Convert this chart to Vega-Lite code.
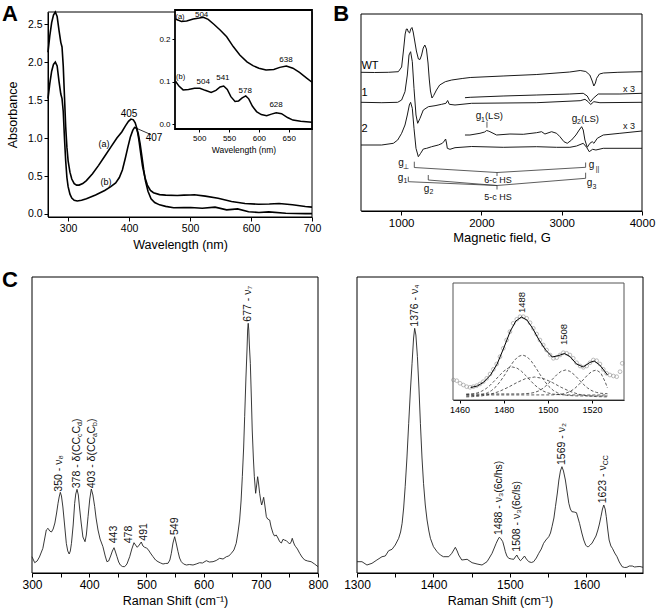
{
"$schema":"https://vega.github.io/schema/vega-lite/v6.json",
"width":656,"height":612,"autosize":{"type":"none"},"padding":0,"background":"white",
"config":{"view":{"stroke":null},"font":"Liberation Sans","axis":{"grid":false,"domainColor":"black","tickColor":"black","labelColor":"black","titleColor":"black","titleFontWeight":"normal","labelFlush":false,"labelOverlap":false,"tickSize":4,"labelPadding":2,"labelFont":"Liberation Sans","titleFont":"Liberation Sans"}},
"datasets":{
"absA":[
{"s":"a","x":267,"y":2.13},{"s":"a","x":270,"y":2.35},{"s":"a","x":273,"y":2.52},{"s":"a","x":276,"y":2.62},{"s":"a","x":279,"y":2.66},{"s":"a","x":282,"y":2.6},{"s":"a","x":285,"y":2.42},{"s":"a","x":288,"y":2.26},{"s":"a","x":290,"y":2.2},{"s":"a","x":292,"y":1.95},{"s":"a","x":294,"y":1.55},{"s":"a","x":296,"y":1.15},{"s":"a","x":298,"y":0.88},{"s":"a","x":300,"y":0.7},{"s":"a","x":303,"y":0.55},{"s":"a","x":306,"y":0.46},{"s":"a","x":310,"y":0.4},{"s":"a","x":314,"y":0.38},{"s":"a","x":318,"y":0.38},{"s":"a","x":324,"y":0.4},{"s":"a","x":330,"y":0.44},{"s":"a","x":340,"y":0.53},{"s":"a","x":350,"y":0.64},{"s":"a","x":360,"y":0.76},{"s":"a","x":370,"y":0.88},{"s":"a","x":380,"y":1.0},{"s":"a","x":388,"y":1.08},{"s":"a","x":394,"y":1.16},{"s":"a","x":399,"y":1.22},{"s":"a","x":403,"y":1.25},{"s":"a","x":407,"y":1.24},{"s":"a","x":410,"y":1.2},{"s":"a","x":413,"y":1.12},{"s":"a","x":416,"y":0.98},{"s":"a","x":419,"y":0.8},{"s":"a","x":422,"y":0.63},{"s":"a","x":426,"y":0.48},{"s":"a","x":430,"y":0.38},{"s":"a","x":435,"y":0.31},{"s":"a","x":440,"y":0.28},{"s":"a","x":450,"y":0.255},{"s":"a","x":460,"y":0.248},{"s":"a","x":479,"y":0.243},{"s":"a","x":490,"y":0.248},{"s":"a","x":500,"y":0.25},{"s":"a","x":507,"y":0.252},{"s":"a","x":525,"y":0.235},{"s":"a","x":546,"y":0.206},{"s":"a","x":568,"y":0.163},{"s":"a","x":590,"y":0.138},{"s":"a","x":612,"y":0.128},{"s":"a","x":630,"y":0.131},{"s":"a","x":646,"y":0.137},{"s":"a","x":668,"y":0.122},{"s":"a","x":689,"y":0.099},{"s":"a","x":700,"y":0.09},
{"s":"b","x":267,"y":1.52},{"s":"b","x":270,"y":1.72},{"s":"b","x":273,"y":1.88},{"s":"b","x":276,"y":1.97},{"s":"b","x":279,"y":2.0},{"s":"b","x":282,"y":1.95},{"s":"b","x":285,"y":1.75},{"s":"b","x":288,"y":1.58},{"s":"b","x":290,"y":1.52},{"s":"b","x":292,"y":1.35},{"s":"b","x":294,"y":1.0},{"s":"b","x":296,"y":0.7},{"s":"b","x":298,"y":0.48},{"s":"b","x":300,"y":0.36},{"s":"b","x":303,"y":0.26},{"s":"b","x":306,"y":0.21},{"s":"b","x":310,"y":0.18},{"s":"b","x":315,"y":0.17},{"s":"b","x":322,"y":0.18},{"s":"b","x":330,"y":0.2},{"s":"b","x":345,"y":0.25},{"s":"b","x":360,"y":0.31},{"s":"b","x":370,"y":0.36},{"s":"b","x":378,"y":0.41},{"s":"b","x":384,"y":0.48},{"s":"b","x":389,"y":0.58},{"s":"b","x":394,"y":0.74},{"s":"b","x":398,"y":0.88},{"s":"b","x":402,"y":1.01},{"s":"b","x":406,"y":1.1},{"s":"b","x":409,"y":1.14},{"s":"b","x":412,"y":1.13},{"s":"b","x":415,"y":1.06},{"s":"b","x":418,"y":0.93},{"s":"b","x":421,"y":0.76},{"s":"b","x":424,"y":0.58},{"s":"b","x":427,"y":0.43},{"s":"b","x":431,"y":0.3},{"s":"b","x":436,"y":0.2},{"s":"b","x":442,"y":0.15},{"s":"b","x":450,"y":0.12},{"s":"b","x":460,"y":0.1},{"s":"b","x":473,"y":0.081},{"s":"b","x":490,"y":0.084},{"s":"b","x":501,"y":0.085},{"s":"b","x":520,"y":0.075},{"s":"b","x":541,"y":0.09},{"s":"b","x":560,"y":0.054},{"s":"b","x":578,"y":0.067},{"s":"b","x":596,"y":0.03},{"s":"b","x":613,"y":0.02},{"s":"b","x":629,"y":0.027},{"s":"b","x":657,"y":0.01},{"s":"b","x":689,"y":0.005},{"s":"b","x":700,"y":0.004}
],
"insA":[
{"s":"a","x":460,"y":0.248},{"s":"a","x":470,"y":0.242},{"s":"a","x":479,"y":0.243},{"s":"a","x":490,"y":0.248},{"s":"a","x":500,"y":0.25},{"s":"a","x":507,"y":0.252},{"s":"a","x":515,"y":0.247},{"s":"a","x":525,"y":0.235},{"s":"a","x":535,"y":0.222},{"s":"a","x":546,"y":0.206},{"s":"a","x":557,"y":0.183},{"s":"a","x":568,"y":0.163},{"s":"a","x":580,"y":0.147},{"s":"a","x":590,"y":0.138},{"s":"a","x":600,"y":0.132},{"s":"a","x":612,"y":0.128},{"s":"a","x":625,"y":0.129},{"s":"a","x":635,"y":0.134},{"s":"a","x":646,"y":0.137},{"s":"a","x":657,"y":0.132},{"s":"a","x":668,"y":0.122},{"s":"a","x":679,"y":0.11},{"s":"a","x":689,"y":0.099},
{"s":"b","x":460,"y":0.102},{"s":"b","x":466,"y":0.09},{"s":"b","x":473,"y":0.081},{"s":"b","x":482,"y":0.082},{"s":"b","x":492,"y":0.085},{"s":"b","x":501,"y":0.085},{"s":"b","x":510,"y":0.08},{"s":"b","x":520,"y":0.075},{"s":"b","x":528,"y":0.08},{"s":"b","x":535,"y":0.088},{"s":"b","x":541,"y":0.09},{"s":"b","x":547,"y":0.082},{"s":"b","x":553,"y":0.065},{"s":"b","x":560,"y":0.054},{"s":"b","x":566,"y":0.055},{"s":"b","x":572,"y":0.062},{"s":"b","x":578,"y":0.067},{"s":"b","x":583,"y":0.06},{"s":"b","x":589,"y":0.043},{"s":"b","x":596,"y":0.03},{"s":"b","x":604,"y":0.023},{"s":"b","x":613,"y":0.02},{"s":"b","x":621,"y":0.024},{"s":"b","x":629,"y":0.027},{"s":"b","x":638,"y":0.025},{"s":"b","x":648,"y":0.016},{"s":"b","x":657,"y":0.01},{"s":"b","x":670,"y":0.007},{"s":"b","x":689,"y":0.005}
],
"epr":[
{"t":"WT","x":500,"y":138.7},{"t":"WT","x":670,"y":138.5},{"t":"WT","x":840,"y":138.7},{"t":"WT","x":965,"y":139.3},{"t":"WT","x":1006,"y":144},{"t":"WT","x":1031,"y":162},{"t":"WT","x":1050,"y":177},{"t":"WT","x":1065,"y":182},{"t":"WT","x":1077,"y":182},{"t":"WT","x":1090,"y":179},{"t":"WT","x":1105,"y":178},{"t":"WT","x":1120,"y":182},{"t":"WT","x":1135,"y":183.5},{"t":"WT","x":1150,"y":179},{"t":"WT","x":1165,"y":172},{"t":"WT","x":1190,"y":160},{"t":"WT","x":1215,"y":152},{"t":"WT","x":1235,"y":151.5},{"t":"WT","x":1255,"y":156},{"t":"WT","x":1275,"y":163},{"t":"WT","x":1295,"y":166},{"t":"WT","x":1315,"y":162},{"t":"WT","x":1335,"y":148},{"t":"WT","x":1350,"y":132},{"t":"WT","x":1365,"y":120},{"t":"WT","x":1384,"y":113},{"t":"WT","x":1405,"y":115.5},{"t":"WT","x":1440,"y":121},{"t":"WT","x":1480,"y":126},{"t":"WT","x":1550,"y":129.3},{"t":"WT","x":1630,"y":131},{"t":"WT","x":1760,"y":132.5},{"t":"WT","x":1860,"y":133.5},{"t":"WT","x":2270,"y":135},{"t":"WT","x":2690,"y":136.5},{"t":"WT","x":3100,"y":139},{"t":"WT","x":3230,"y":140.5},{"t":"WT","x":3300,"y":139.5},{"t":"WT","x":3350,"y":136},{"t":"WT","x":3380,"y":130},{"t":"WT","x":3400,"y":125},{"t":"WT","x":3420,"y":128},{"t":"WT","x":3435,"y":132.7},{"t":"WT","x":3470,"y":137},{"t":"WT","x":3520,"y":138},{"t":"WT","x":3700,"y":138.7},{"t":"WT","x":4000,"y":139.3},
{"t":"1","x":500,"y":108.7},{"t":"1","x":760,"y":108.3},{"t":"1","x":957,"y":108.7},{"t":"1","x":1006,"y":111},{"t":"1","x":1048,"y":119.3},{"t":"1","x":1077,"y":136},{"t":"1","x":1098,"y":156},{"t":"1","x":1118,"y":159.3},{"t":"1","x":1139,"y":149.3},{"t":"1","x":1160,"y":122.7},{"t":"1","x":1185,"y":96},{"t":"1","x":1206,"y":87.7},{"t":"1","x":1235,"y":92.7},{"t":"1","x":1276,"y":101},{"t":"1","x":1339,"y":104.3},{"t":"1","x":1422,"y":105.3},{"t":"1","x":1505,"y":106.7},{"t":"1","x":1558,"y":107.7},{"t":"1","x":1579,"y":110.5},{"t":"1","x":1600,"y":106.7},{"t":"1","x":1671,"y":106},{"t":"1","x":1878,"y":107.7},{"t":"1","x":2690,"y":108.3},{"t":"1","x":3230,"y":110.3},{"t":"1","x":3290,"y":111.7},{"t":"1","x":3330,"y":109.3},{"t":"1","x":3360,"y":106.5},{"t":"1","x":3400,"y":109.3},{"t":"1","x":3476,"y":108.3},{"t":"1","x":4000,"y":108.7},
{"t":"1x3","x":1795,"y":113.3},{"t":"1x3","x":1860,"y":113.7},{"t":"1x3","x":2270,"y":115},{"t":"1x3","x":2690,"y":116},{"t":"1x3","x":3100,"y":117},{"t":"1x3","x":3268,"y":117.7},{"t":"1x3","x":3318,"y":115},{"t":"1x3","x":3345,"y":111},{"t":"1x3","x":3360,"y":109.3},{"t":"1x3","x":3393,"y":112.7},{"t":"1x3","x":3455,"y":117},{"t":"1x3","x":3725,"y":117},{"t":"1x3","x":4000,"y":117.7},
{"t":"2","x":500,"y":66},{"t":"2","x":757,"y":66},{"t":"2","x":903,"y":67.7},{"t":"2","x":957,"y":71},{"t":"2","x":1006,"y":77.7},{"t":"2","x":1048,"y":86},{"t":"2","x":1077,"y":96},{"t":"2","x":1102,"y":106},{"t":"2","x":1118,"y":108.7},{"t":"2","x":1139,"y":102.7},{"t":"2","x":1160,"y":82.7},{"t":"2","x":1185,"y":62.7},{"t":"2","x":1214,"y":54.3},{"t":"2","x":1243,"y":57.7},{"t":"2","x":1276,"y":62},{"t":"2","x":1318,"y":62.7},{"t":"2","x":1380,"y":64.3},{"t":"2","x":1463,"y":66},{"t":"2","x":1513,"y":67.7},{"t":"2","x":1538,"y":70},{"t":"2","x":1554,"y":72},{"t":"2","x":1565,"y":68},{"t":"2","x":1575,"y":62.7},{"t":"2","x":1608,"y":61.7},{"t":"2","x":1671,"y":63.3},{"t":"2","x":1878,"y":64.5},{"t":"2","x":2272,"y":63.7},{"t":"2","x":2687,"y":64.3},{"t":"2","x":2936,"y":63.7},{"t":"2","x":3102,"y":63.7},{"t":"2","x":3185,"y":65},{"t":"2","x":3268,"y":67.7},{"t":"2","x":3310,"y":63.7},{"t":"2","x":3343,"y":59.3},{"t":"2","x":3385,"y":61.7},{"t":"2","x":3426,"y":61},{"t":"2","x":3517,"y":62.7},{"t":"2","x":4000,"y":62.7},
{"t":"2x3","x":1795,"y":76},{"t":"2x3","x":1857,"y":76},{"t":"2x3","x":1982,"y":77.7},{"t":"2x3","x":2040,"y":79},{"t":"2x3","x":2065,"y":80.5},{"t":"2x3","x":2085,"y":80},{"t":"2x3","x":2106,"y":79.3},{"t":"2x3","x":2189,"y":76},{"t":"2x3","x":2355,"y":77},{"t":"2x3","x":2521,"y":76.7},{"t":"2x3","x":2687,"y":78.3},{"t":"2x3","x":2749,"y":79.3},{"t":"2x3","x":2791,"y":77},{"t":"2x3","x":2874,"y":79.3},{"t":"2x3","x":2936,"y":77.7},{"t":"2x3","x":2978,"y":74.3},{"t":"2x3","x":3028,"y":69.3},{"t":"2x3","x":3069,"y":67.7},{"t":"2x3","x":3123,"y":71},{"t":"2x3","x":3177,"y":76},{"t":"2x3","x":3218,"y":81},{"t":"2x3","x":3248,"y":84.3},{"t":"2x3","x":3268,"y":81},{"t":"2x3","x":3289,"y":71},{"t":"2x3","x":3318,"y":63.7},{"t":"2x3","x":3351,"y":67.7},{"t":"2x3","x":3380,"y":69.3},{"t":"2x3","x":3401,"y":67.7},{"t":"2x3","x":3443,"y":72.7},{"t":"2x3","x":3517,"y":76},{"t":"2x3","x":3725,"y":77.7},{"t":"2x3","x":4000,"y":80}
],
"brk":[
{"g":"p1","i":0,"x":1164,"y":49.3},{"g":"p1","i":1,"x":1164,"y":43.5},{"g":"p1","i":2,"x":2194,"y":38.5},{"g":"p1","i":3,"x":3298,"y":43.7},{"g":"p1","i":4,"x":3298,"y":48.5},
{"g":"p2","i":0,"x":2194,"y":38.5},{"g":"p2","i":1,"x":2194,"y":35},
{"g":"q1","i":0,"x":1089,"y":34.3},{"g":"q1","i":1,"x":1089,"y":29.3},{"g":"q1","i":2,"x":2194,"y":25.5},
{"g":"q2","i":0,"x":1338,"y":36},{"g":"q2","i":1,"x":1338,"y":31},{"g":"q2","i":2,"x":2194,"y":25.5},
{"g":"q3","i":0,"x":2194,"y":25.5},{"g":"q3","i":1,"x":3298,"y":32.7},{"g":"q3","i":2,"x":3298,"y":38.3},
{"g":"q4","i":0,"x":2194,"y":25.5},{"g":"q4","i":1,"x":2194,"y":21.5},
{"g":"ls1","i":0,"x":2069,"y":89.3},{"g":"ls1","i":1,"x":2069,"y":83.3}
],
"multiL":[
{"x":378.7,"y":82.7,"p1":"378 - δ(CC","p2":"c","p3":"C","p4":"d","p5":")"},
{"x":405.5,"y":82.7,"p1":"403 - δ(CC","p2":"a","p3":"C","p4":"b","p5":")"}
],
"ramL":[
{"x":300,"y":16.3},{"x":304.7,"y":10.3},{"x":309,"y":12},{"x":313,"y":16},{"x":319,"y":24.7},{"x":325,"y":43},{"x":328,"y":44.7},{"x":331,"y":42},{"x":334,"y":41},{"x":337,"y":44},{"x":340,"y":50},{"x":343,"y":60},{"x":345.5,"y":69.7},{"x":347.5,"y":76},{"x":349.5,"y":80.7},{"x":351.5,"y":77},{"x":354,"y":66},{"x":357,"y":48},{"x":360,"y":29.7},{"x":362.5,"y":22},{"x":365,"y":19},{"x":367,"y":22},{"x":369,"y":29.7},{"x":372,"y":48},{"x":374.6,"y":69.7},{"x":376.5,"y":79},{"x":378.7,"y":83.7},{"x":381,"y":78},{"x":383,"y":66},{"x":386,"y":50},{"x":389,"y":36},{"x":392.7,"y":31.3},{"x":395,"y":38},{"x":398,"y":56.3},{"x":401,"y":74},{"x":403.7,"y":84},{"x":406.5,"y":78},{"x":409.6,"y":66.3},{"x":412,"y":55},{"x":415.4,"y":43},{"x":419,"y":34},{"x":424,"y":26.3},{"x":428,"y":17},{"x":431,"y":11.3},{"x":434,"y":12},{"x":437.5,"y":17},{"x":440.5,"y":22},{"x":443.4,"y":25.3},{"x":446,"y":21},{"x":448.6,"y":16.3},{"x":451.5,"y":11},{"x":454.4,"y":8},{"x":458,"y":6.5},{"x":462,"y":6.3},{"x":466,"y":9},{"x":470.8,"y":16.3},{"x":474.5,"y":24},{"x":478.3,"y":30.3},{"x":481,"y":28},{"x":484,"y":25.7},{"x":487.5,"y":28},{"x":491,"y":31},{"x":494,"y":27},{"x":497,"y":25.7},{"x":500,"y":25},{"x":502.8,"y":23.7},{"x":507,"y":20},{"x":511.6,"y":16.3},{"x":516,"y":13},{"x":520.3,"y":11.3},{"x":525,"y":10},{"x":529,"y":9},{"x":533,"y":9.5},{"x":537.8,"y":9.7},{"x":541,"y":13},{"x":543.6,"y":19.7},{"x":546.5,"y":30},{"x":549.4,"y":36.3},{"x":552,"y":30},{"x":555.3,"y":21.3},{"x":558,"y":15},{"x":561,"y":11.3},{"x":565,"y":9},{"x":570,"y":8},{"x":575,"y":8.5},{"x":581.5,"y":8},{"x":587,"y":9},{"x":593,"y":10.3},{"x":598,"y":10},{"x":604.8,"y":12.3},{"x":610,"y":11},{"x":616.5,"y":11.3},{"x":622,"y":12.5},{"x":628,"y":14.7},{"x":634,"y":14},{"x":639.8,"y":16.3},{"x":644,"y":17},{"x":648.5,"y":19.7},{"x":653,"y":23},{"x":657,"y":29.7},{"x":660,"y":40},{"x":663,"y":53},{"x":665.5,"y":72},{"x":667.7,"y":96.3},{"x":670,"y":125},{"x":671.8,"y":156.3},{"x":674,"y":195},{"x":675.9,"y":223},{"x":677,"y":243},{"x":678,"y":249.7},{"x":679,"y":243},{"x":680,"y":228},{"x":681.7,"y":209.7},{"x":683.5,"y":175},{"x":685,"y":143},{"x":687,"y":115},{"x":688.7,"y":96.3},{"x":691,"y":79.7},{"x":692.8,"y":88},{"x":694.5,"y":96.3},{"x":696,"y":90},{"x":698,"y":79.7},{"x":700,"y":72},{"x":701.5,"y":68},{"x":703,"y":71},{"x":705,"y":75.7},{"x":707,"y":68},{"x":709.7,"y":56.3},{"x":712,"y":54},{"x":715.5,"y":53},{"x":718,"y":46},{"x":721.4,"y":39.7},{"x":724,"y":37},{"x":727,"y":38},{"x":730,"y":35},{"x":733,"y":31.3},{"x":736,"y":30},{"x":738.8,"y":33.7},{"x":741,"y":33},{"x":744.7,"y":32.3},{"x":747,"y":31},{"x":750.5,"y":29},{"x":753,"y":31},{"x":755,"y":34.7},{"x":757,"y":31},{"x":759,"y":28},{"x":761,"y":26.3},{"x":764,"y":24},{"x":768,"y":19.7},{"x":772,"y":16},{"x":776.7,"y":13},{"x":782,"y":12},{"x":788,"y":11.3},{"x":794,"y":9},{"x":800,"y":6.3}
],
"ramR":[
{"x":1300,"y":11.3},{"x":1306.5,"y":11.3},{"x":1313,"y":8},{"x":1319.6,"y":9.7},{"x":1326,"y":13},{"x":1332.7,"y":16.3},{"x":1337,"y":17},{"x":1341.4,"y":22.3},{"x":1345.8,"y":23.7},{"x":1350,"y":28},{"x":1354.5,"y":34.7},{"x":1357,"y":41},{"x":1359,"y":49.7},{"x":1361,"y":65},{"x":1363,"y":86.3},{"x":1365.3,"y":115},{"x":1367.6,"y":149.7},{"x":1369.8,"y":182},{"x":1372,"y":209.7},{"x":1374,"y":235},{"x":1375.4,"y":244.7},{"x":1377,"y":238},{"x":1379,"y":216.3},{"x":1381,"y":185},{"x":1382.9,"y":149.7},{"x":1385,"y":115},{"x":1387,"y":89.7},{"x":1389.3,"y":68},{"x":1391.6,"y":53},{"x":1394,"y":42},{"x":1396,"y":34.7},{"x":1400,"y":26.3},{"x":1404.7,"y":21.3},{"x":1409,"y":18},{"x":1413,"y":16.3},{"x":1420,"y":16.3},{"x":1424,"y":19.7},{"x":1426.5,"y":23},{"x":1428.6,"y":25.7},{"x":1431,"y":22},{"x":1433,"y":18},{"x":1437,"y":13},{"x":1444,"y":13.7},{"x":1450.5,"y":10.3},{"x":1457,"y":9},{"x":1463.5,"y":8},{"x":1470,"y":11.3},{"x":1473,"y":15},{"x":1476.6,"y":19.7},{"x":1479.5,"y":25},{"x":1482,"y":29.7},{"x":1484,"y":33},{"x":1486,"y":35.7},{"x":1488,"y":34.5},{"x":1490.6,"y":31.3},{"x":1492.5,"y":26},{"x":1494,"y":21.3},{"x":1496,"y":17},{"x":1498.4,"y":14.7},{"x":1502,"y":14},{"x":1505,"y":13.7},{"x":1507,"y":16},{"x":1509,"y":18},{"x":1511,"y":15},{"x":1513.7,"y":12.3},{"x":1516,"y":14},{"x":1519,"y":17},{"x":1521.5,"y":14},{"x":1524.6,"y":11.3},{"x":1528,"y":10.5},{"x":1531,"y":11.3},{"x":1534.5,"y":15},{"x":1537.7,"y":19.7},{"x":1541,"y":24},{"x":1544,"y":29.7},{"x":1547,"y":33},{"x":1550.8,"y":36.3},{"x":1553,"y":40},{"x":1555,"y":46.3},{"x":1557.5,"y":55},{"x":1559.5,"y":66.3},{"x":1562,"y":80},{"x":1564,"y":93},{"x":1566,"y":102},{"x":1568,"y":106.3},{"x":1570,"y":102},{"x":1572.5,"y":93},{"x":1575,"y":80},{"x":1577,"y":69.7},{"x":1579,"y":64},{"x":1581,"y":61.3},{"x":1584,"y":61},{"x":1587,"y":60.3},{"x":1589,"y":55},{"x":1591,"y":49.7},{"x":1594,"y":40},{"x":1596.5,"y":33},{"x":1599,"y":28},{"x":1601,"y":26.3},{"x":1603,"y":26.5},{"x":1605,"y":28},{"x":1607.5,"y":30},{"x":1609.6,"y":33},{"x":1612.5,"y":37},{"x":1615,"y":43},{"x":1617,"y":49},{"x":1619,"y":56.3},{"x":1621,"y":64},{"x":1622.7,"y":68},{"x":1624.5,"y":64},{"x":1626,"y":56.3},{"x":1628,"y":43},{"x":1629.7,"y":33},{"x":1632,"y":27},{"x":1634,"y":24.7},{"x":1637,"y":20},{"x":1640,"y":16.3},{"x":1643,"y":11},{"x":1646.7,"y":6.3},{"x":1650,"y":5.5},{"x":1653,"y":5.7},{"x":1656,"y":7},{"x":1660,"y":7},{"x":1663,"y":6},{"x":1666,"y":6.3},{"x":1670,"y":6.5},{"x":1674,"y":5.7}
],
"cDots":[
{"x":1457.2,"y":20},{"x":1458.7,"y":19.3},{"x":1460.2,"y":16.7},{"x":1461.7,"y":15},{"x":1463.2,"y":13.3},{"x":1464.7,"y":12.7},{"x":1466.2,"y":13.3},{"x":1467.7,"y":14.3},{"x":1469.2,"y":16},{"x":1470.7,"y":18.3},{"x":1472.3,"y":21.7},{"x":1473.8,"y":26},{"x":1475.3,"y":30.7},{"x":1476.8,"y":36},{"x":1478.3,"y":43.3},{"x":1479.8,"y":51.7},{"x":1481.3,"y":60},{"x":1482.8,"y":68.3},{"x":1484.3,"y":76.7},{"x":1485.9,"y":80.7},{"x":1487.4,"y":83.3},{"x":1488.9,"y":83.3},{"x":1490.4,"y":81.7},{"x":1491.9,"y":77.3},{"x":1493.4,"y":71.7},{"x":1494.9,"y":66},{"x":1496.4,"y":60},{"x":1497.9,"y":55},{"x":1499.4,"y":50},{"x":1501,"y":45},{"x":1502.5,"y":41.7},{"x":1504,"y":42.3},{"x":1505.5,"y":45},{"x":1507,"y":47.3},{"x":1508.5,"y":46.7},{"x":1510,"y":45},{"x":1511.5,"y":41.7},{"x":1513,"y":37.3},{"x":1514.6,"y":34},{"x":1516.1,"y":32.7},{"x":1517.6,"y":34},{"x":1519.1,"y":37.3},{"x":1520.6,"y":40},{"x":1522.1,"y":39.3},{"x":1523.6,"y":36},{"x":1525.1,"y":30.7},{"x":1526.6,"y":26.7},{"x":1528.1,"y":25},{"x":1529.7,"y":24},{"x":1531.2,"y":23.3},{"x":1532.7,"y":28.3},{"x":1533.7,"y":36.7}
],
"cFit":[
{"x":1465,"y":12.5},{"x":1468,"y":14},{"x":1471,"y":18},{"x":1474,"y":25},{"x":1477,"y":36},{"x":1480,"y":52},{"x":1483,"y":69},{"x":1485.5,"y":79},{"x":1488,"y":83},{"x":1490.5,"y":80},{"x":1493,"y":72},{"x":1496,"y":60},{"x":1499,"y":50},{"x":1502,"y":43},{"x":1505,"y":44.5},{"x":1507.5,"y":46.5},{"x":1510,"y":43.5},{"x":1513,"y":36},{"x":1516,"y":33},{"x":1519,"y":37.5},{"x":1521,"y":39},{"x":1523.5,"y":35},{"x":1526,"y":28},{"x":1527,"y":25}
],
"cComp":[
{"c":"c1","x":1463,"y":5.4},{"c":"c1","x":1466,"y":6},{"c":"c1","x":1468,"y":7.1},{"c":"c1","x":1470,"y":8.8},{"c":"c1","x":1472,"y":11.4},{"c":"c1","x":1474,"y":15.1},{"c":"c1","x":1476,"y":19.6},{"c":"c1","x":1478,"y":24.4},{"c":"c1","x":1480,"y":28.8},{"c":"c1","x":1482,"y":31.9},{"c":"c1","x":1484,"y":33},{"c":"c1","x":1486,"y":31.9},{"c":"c1","x":1488,"y":28.8},{"c":"c1","x":1490,"y":24.4},{"c":"c1","x":1492,"y":19.6},{"c":"c1","x":1494,"y":15.1},{"c":"c1","x":1496,"y":11.4},{"c":"c1","x":1498,"y":8.8},{"c":"c1","x":1500,"y":7.1},{"c":"c1","x":1502,"y":6},{"c":"c1","x":1504,"y":5.5},{"c":"c1","x":1508,"y":5.1},{"c":"c1","x":1514,"y":5},{"c":"c1","x":1527,"y":5},
{"c":"c2","x":1463,"y":4},{"c":"c2","x":1468.5,"y":4.7},{"c":"c2","x":1470.5,"y":5.5},{"c":"c2","x":1472.5,"y":7},{"c":"c2","x":1474.5,"y":9.5},{"c":"c2","x":1476.5,"y":13.4},{"c":"c2","x":1478.5,"y":18.8},{"c":"c2","x":1480.5,"y":25.3},{"c":"c2","x":1482.5,"y":32.4},{"c":"c2","x":1484.5,"y":38.8},{"c":"c2","x":1486.5,"y":43.4},{"c":"c2","x":1488.5,"y":45},{"c":"c2","x":1490.5,"y":43.4},{"c":"c2","x":1492.5,"y":38.8},{"c":"c2","x":1494.5,"y":32.4},{"c":"c2","x":1496.5,"y":25.3},{"c":"c2","x":1498.5,"y":18.8},{"c":"c2","x":1500.5,"y":13.4},{"c":"c2","x":1502.5,"y":9.5},{"c":"c2","x":1504.5,"y":7},{"c":"c2","x":1506.5,"y":5.5},{"c":"c2","x":1508.5,"y":4.7},{"c":"c2","x":1512.5,"y":4.1},{"c":"c2","x":1527,"y":4},
{"c":"c3","x":1463,"y":3.1},{"c":"c3","x":1466,"y":3.4},{"c":"c3","x":1470,"y":4.1},{"c":"c3","x":1474,"y":5.7},{"c":"c3","x":1478,"y":8.6},{"c":"c3","x":1482,"y":12.7},{"c":"c3","x":1486,"y":17.5},{"c":"c3","x":1490,"y":21.5},{"c":"c3","x":1494,"y":23},{"c":"c3","x":1498,"y":21.5},{"c":"c3","x":1502,"y":17.5},{"c":"c3","x":1506,"y":12.7},{"c":"c3","x":1510,"y":8.6},{"c":"c3","x":1514,"y":5.7},{"c":"c3","x":1518,"y":4.1},{"c":"c3","x":1522,"y":3.4},{"c":"c3","x":1527,"y":3.1},
{"c":"c4","x":1463,"y":6},{"c":"c4","x":1488,"y":6.1},{"c":"c4","x":1492,"y":6.7},{"c":"c4","x":1494,"y":7.6},{"c":"c4","x":1496,"y":9.2},{"c":"c4","x":1498,"y":12},{"c":"c4","x":1500,"y":15.9},{"c":"c4","x":1502,"y":20.6},{"c":"c4","x":1504,"y":25.2},{"c":"c4","x":1506,"y":28.7},{"c":"c4","x":1508,"y":30},{"c":"c4","x":1510,"y":28.7},{"c":"c4","x":1512,"y":25.2},{"c":"c4","x":1514,"y":20.6},{"c":"c4","x":1516,"y":15.9},{"c":"c4","x":1518,"y":12},{"c":"c4","x":1520,"y":9.2},{"c":"c4","x":1522,"y":7.6},{"c":"c4","x":1524,"y":6.7},{"c":"c4","x":1527,"y":6.3},
{"c":"c5","x":1463,"y":5},{"c":"c5","x":1502,"y":5.1},{"c":"c5","x":1506,"y":5.7},{"c":"c5","x":1508,"y":6.7},{"c":"c5","x":1510,"y":8.4},{"c":"c5","x":1512,"y":11.2},{"c":"c5","x":1514,"y":15.3},{"c":"c5","x":1516,"y":20.2},{"c":"c5","x":1518,"y":25},{"c":"c5","x":1520,"y":28.7},{"c":"c5","x":1522,"y":30},{"c":"c5","x":1524,"y":27},{"c":"c5","x":1526,"y":18},{"c":"c5","x":1527,"y":12}
]
},
"layer":[
{
"encoding":{
"x":{"field":"x","type":"quantitative","scale":{"domain":[267,700],"range":[48,312],"nice":false,"zero":false},"axis":{"orient":"bottom","offset":-395,"values":[300,400,500,600,700],"format":"d","labelFontSize":10.5,"title":"Wavelength (nm)","titleFontSize":12.5,"titlePadding":5}},
"y":{"field":"y","type":"quantitative","scale":{"domain":[-0.04,2.66],"range":[217,12],"nice":false,"zero":false},"axis":{"orient":"left","offset":-48,"values":[0,0.5,1,1.5,2,2.5],"format":".1f","labelFontSize":10.5,"title":"Absorbance","titleFontSize":12.5,"titlePadding":8}}
},
"layer":[
{"data":{"values":[{"x":267,"y":-0.04,"x2":700,"y2":2.66}]},"mark":{"type":"rect","fillOpacity":0,"stroke":"black","strokeWidth":1},"encoding":{"x2":{"field":"x2"},"y2":{"field":"y2"}}},
{"data":{"name":"absA"},"mark":{"type":"line","color":"black","strokeWidth":1.6},"encoding":{"detail":{"field":"s"}}},
{"data":{"values":[{"x":413,"y":1.125},{"x":436,"y":1.045}]},"mark":{"type":"line","color":"black","strokeWidth":0.8},"encoding":{}},
{"data":{"values":[{"x":400,"y":1.32,"t":"405"},{"x":441,"y":1.0,"t":"407"}]},"mark":{"type":"text","fontSize":10,"color":"black"},"encoding":{"text":{"field":"t"}}},
{"data":{"values":[{"x":359,"y":0.92,"t":"(a)"},{"x":362,"y":0.42,"t":"(b)"}]},"mark":{"type":"text","fontSize":9,"color":"black"},"encoding":{"text":{"field":"t"}}},
{"data":{"values":[{"x":191.6,"y":2.77,"t":"A"}]},"mark":{"type":"text","fontSize":22,"fontWeight":"bold","align":"left","baseline":"top","color":"black"},"encoding":{"text":{"field":"t"}}}
]
},
{
"encoding":{
"x":{"field":"x","type":"quantitative","scale":{"domain":[459.4,689],"range":[175,312],"nice":false,"zero":false},"axis":{"orient":"bottom","offset":-483,"values":[500,550,600,650],"format":"d","labelFontSize":8,"tickSize":3,"title":"Wavelength (nm)","titleFontSize":8.5,"titlePadding":3}},
"y":{"field":"y","type":"quantitative","scale":{"domain":[-0.011,0.269],"range":[129,10],"nice":false,"zero":false},"axis":{"orient":"left","offset":-175,"values":[0,0.1,0.2],"format":".1f","labelFontSize":8,"tickSize":3,"title":null}}
},
"layer":[
{"data":{"values":[{"x":459.4,"y":-0.011,"x2":689,"y2":0.269}]},"mark":{"type":"rect","fill":"white","stroke":"black","strokeWidth":1.8},"encoding":{"x2":{"field":"x2"},"y2":{"field":"y2"}}},
{"data":{"name":"insA"},"mark":{"type":"line","color":"black","strokeWidth":1.5},"encoding":{"detail":{"field":"s"}}},
{"data":{"values":[{"x":504,"y":0.257,"t":"504"},{"x":506.6,"y":0.0995,"t":"504"},{"x":539.6,"y":0.1096,"t":"541"},{"x":577,"y":0.079,"t":"578"},{"x":628.8,"y":0.0454,"t":"628"},{"x":645.5,"y":0.152,"t":"638"}]},"mark":{"type":"text","fontSize":8,"color":"black"},"encoding":{"text":{"field":"t"}}},
{"data":{"values":[{"x":467.8,"y":0.2525,"t":"(a)"},{"x":468.9,"y":0.112,"t":"(b)"}]},"mark":{"type":"text","fontSize":7.5,"color":"black"},"encoding":{"text":{"field":"t"}}}
]
},
{
"encoding":{
"x":{"field":"x","type":"quantitative","scale":{"domain":[500,4000],"range":[361,642],"nice":false,"zero":false},"axis":{"orient":"bottom","offset":-401,"values":[1000,2000,3000,4000],"format":"d","labelFontSize":11.5,"title":"Magnetic field, G","titleFontSize":13,"titlePadding":3}},
"y":{"field":"y","type":"quantitative","scale":{"domain":[0,197],"range":[211,14],"nice":false,"zero":false},"axis":null}
},
"layer":[
{"data":{"values":[{"x":500,"y":0,"x2":4000,"y2":197}]},"mark":{"type":"rect","fillOpacity":0,"stroke":"black","strokeWidth":1},"encoding":{"x2":{"field":"x2"},"y2":{"field":"y2"}}},
{"data":{"name":"epr"},"mark":{"type":"line","color":"#1a1a1a","strokeWidth":1},"encoding":{"detail":{"field":"t"}}},
{"data":{"name":"brk"},"mark":{"type":"line","color":"#333","strokeWidth":0.8},"encoding":{"detail":{"field":"g"},"order":{"field":"i"}}},
{"data":{"values":[{"x":505,"y":145,"t":"WT"},{"x":505,"y":118,"t":"1"},{"x":505,"y":82,"t":"2"}]},"mark":{"type":"text","fontSize":11,"align":"left","baseline":"middle","color":"black"},"encoding":{"text":{"field":"t"}}},
{"data":{"values":[{"x":3837,"y":122,"t":"x 3"},{"x":3837,"y":85.5,"t":"x 3"},{"x":2206,"y":31.3,"t":"6-c HS"},{"x":2206,"y":14.3,"t":"5-c HS"}]},"mark":{"type":"text","fontSize":9,"baseline":"middle","color":"#111"},"encoding":{"text":{"field":"t"}}},
{"data":{"values":[{"x":998,"y":45,"t":"g"},{"x":3370,"y":43,"t":"g"},{"x":992,"y":30.5,"t":"g"},{"x":1316,"y":19.5,"t":"g"},{"x":3346,"y":25,"t":"g"},{"x":1963,"y":92,"t":"g"},{"x":3159,"y":89.5,"t":"g"}]},"mark":{"type":"text","fontSize":10,"baseline":"alphabetic","color":"#111"},"encoding":{"text":{"field":"t"}}},
{"data":{"values":[{"x":1066,"y":42.5,"t":"⊥"},{"x":3445,"y":40.5,"t":"||"},{"x":1054,"y":28,"t":"1"},{"x":1378,"y":17,"t":"2"},{"x":3408,"y":22.5,"t":"3"},{"x":2019,"y":89.5,"t":"1"},{"x":3215,"y":87,"t":"2"}]},"mark":{"type":"text","fontSize":7,"baseline":"alphabetic","color":"#111"},"encoding":{"text":{"field":"t"}}},
{"data":{"values":[{"x":2044,"y":92,"t":"(LS)"},{"x":3240,"y":89.5,"t":"(LS)"}]},"mark":{"type":"text","fontSize":9.5,"align":"left","baseline":"alphabetic","color":"#111"},"encoding":{"text":{"field":"t"}}},
{"data":{"values":[{"x":155,"y":207.5,"t":"B"}]},"mark":{"type":"text","fontSize":22,"fontWeight":"bold","align":"left","baseline":"top","color":"black"},"encoding":{"text":{"field":"t"}}}
]
},
{
"encoding":{
"x":{"field":"x","type":"quantitative","scale":{"domain":[300,800],"range":[32,318],"nice":false,"zero":false},"axis":{"orient":"bottom","offset":-39,"values":[300,350,400,450,500,550,600,650,700,750,800],"labelExpr":"datum.value % 100 == 0 ? datum.label : ''","format":"d","labelFontSize":12,"title":"Raman Shift (cm⁻¹)","titleFontSize":12.5,"titlePadding":4}},
"y":{"field":"y","type":"quantitative","scale":{"domain":[0,296],"range":[573,277],"nice":false,"zero":false},"axis":null}
},
"layer":[
{"data":{"values":[{"x":300,"y":0,"x2":800,"y2":296}]},"mark":{"type":"rect","fillOpacity":0,"stroke":"black","strokeWidth":1},"encoding":{"x2":{"field":"x2"},"y2":{"field":"y2"}}},
{"data":{"name":"ramL"},"mark":{"type":"line","color":"#222","strokeWidth":0.9},"encoding":{}},
{"data":{"values":[{"x":347.5,"y":79.3,"t":"350 - ν₈"},{"x":443.4,"y":27.7,"t":"443"},{"x":470,"y":27.7,"t":"478"},{"x":495,"y":30.3,"t":"491"},{"x":549.4,"y":36,"t":"549"},{"x":678,"y":249.3,"t":"677 - ν₇"}]},"mark":{"type":"text","angle":270,"align":"left","baseline":"middle","fontSize":10.5,"dx":2,"color":"#111"},"encoding":{"text":{"field":"t"}}},
{"data":{"name":"multiL"},"mark":{"type":"text","angle":270,"align":"left","baseline":"middle","fontSize":10.5,"dx":2,"color":"#111"},"encoding":{"text":{"field":"p1"}}},
{"data":{"name":"multiL"},"mark":{"type":"text","angle":270,"align":"left","baseline":"middle","fontSize":7,"dx":53.3,"dy":3,"color":"#111"},"encoding":{"text":{"field":"p2"}}},
{"data":{"name":"multiL"},"mark":{"type":"text","angle":270,"align":"left","baseline":"middle","fontSize":10.5,"dx":56.8,"color":"#111"},"encoding":{"text":{"field":"p3"}}},
{"data":{"name":"multiL"},"mark":{"type":"text","angle":270,"align":"left","baseline":"middle","fontSize":7,"dx":64.4,"dy":3,"color":"#111"},"encoding":{"text":{"field":"p4"}}},
{"data":{"name":"multiL"},"mark":{"type":"text","angle":270,"align":"left","baseline":"middle","fontSize":10.5,"dx":68.3,"color":"#111"},"encoding":{"text":{"field":"p5"}}},
{"data":{"values":[{"x":247.6,"y":303.5,"t":"C"}]},"mark":{"type":"text","fontSize":22,"fontWeight":"bold","align":"left","baseline":"top","color":"black"},"encoding":{"text":{"field":"t"}}}
]
},
{
"encoding":{
"x":{"field":"x","type":"quantitative","scale":{"domain":[1300,1674],"range":[357,643],"nice":false,"zero":false},"axis":{"orient":"bottom","offset":-39,"values":[1300,1350,1400,1450,1500,1550,1600,1650],"labelExpr":"datum.value % 100 == 0 ? datum.label : ''","format":"d","labelFontSize":12,"title":"Raman Shift (cm⁻¹)","titleFontSize":12.5,"titlePadding":4}},
"y":{"field":"y","type":"quantitative","scale":{"domain":[0,296],"range":[573,277],"nice":false,"zero":false},"axis":null}
},
"layer":[
{"data":{"values":[{"x":1300,"y":0,"x2":1674,"y2":296}]},"mark":{"type":"rect","fillOpacity":0,"stroke":"black","strokeWidth":1},"encoding":{"x2":{"field":"x2"},"y2":{"field":"y2"}}},
{"data":{"name":"ramR"},"mark":{"type":"line","color":"#222","strokeWidth":0.9},"encoding":{}},
{"data":{"values":[{"x":1376.3,"y":244.3,"t":"1376 - ν₄"},{"x":1485.3,"y":36,"t":"1488 - ν₃(6c/hs)"},{"x":1508.9,"y":19.3,"t":"1508 - ν₃(6c/ls)"},{"x":1567.8,"y":106,"t":"1569 - ν₂"}]},"mark":{"type":"text","angle":270,"align":"left","baseline":"middle","fontSize":10.5,"dx":2,"color":"#111"},"encoding":{"text":{"field":"t"}}},
{"data":{"values":[{"x":1621.4,"y":67.7,"p1":"1623 - ν","p2":"CC"}]},"mark":{"type":"text","angle":270,"align":"left","baseline":"middle","fontSize":10.5,"dx":2,"color":"#111"},"encoding":{"text":{"field":"p1"}}},
{"data":{"values":[{"x":1621.4,"y":67.7,"p1":"1623 - ν","p2":"CC"}]},"mark":{"type":"text","angle":270,"align":"left","baseline":"middle","fontSize":7,"dx":40,"dy":3,"color":"#111"},"encoding":{"text":{"field":"p2"}}}
]
},
{
"encoding":{
"x":{"field":"x","type":"quantitative","scale":{"domain":[1457,1534.5],"range":[453,624],"nice":false,"zero":false},"axis":{"orient":"bottom","offset":-212,"values":[1460,1480,1500,1520],"format":"d","labelFontSize":9,"tickSize":3,"title":null}},
"y":{"field":"y","type":"quantitative","scale":{"domain":[0,117],"range":[400,283],"nice":false,"zero":false},"axis":null}
},
"layer":[
{"data":{"values":[{"x":1457,"y":0,"x2":1534.5,"y2":117}]},"mark":{"type":"rect","fill":"white","stroke":"#555","strokeWidth":1},"encoding":{"x2":{"field":"x2"},"y2":{"field":"y2"}}},
{"data":{"name":"cComp"},"mark":{"type":"line","color":"#333","strokeWidth":0.8,"strokeDash":[3,2]},"encoding":{"detail":{"field":"c"}}},
{"data":{"name":"cDots"},"mark":{"type":"point","shape":"circle","size":14,"filled":false,"color":"#888","strokeWidth":0.8},"encoding":{}},
{"data":{"name":"cFit"},"mark":{"type":"line","color":"black","strokeWidth":1},"encoding":{}},
{"data":{"values":[{"x":1488.1,"y":85,"t":"1488"},{"x":1507.5,"y":53,"t":"1508"}]},"mark":{"type":"text","angle":270,"align":"left","baseline":"middle","fontSize":9.5,"dx":2,"color":"#111"},"encoding":{"text":{"field":"t"}}}
]
}
],
"resolve":{"scale":{"x":"independent","y":"independent"},"axis":{"x":"independent","y":"independent"}}
}
